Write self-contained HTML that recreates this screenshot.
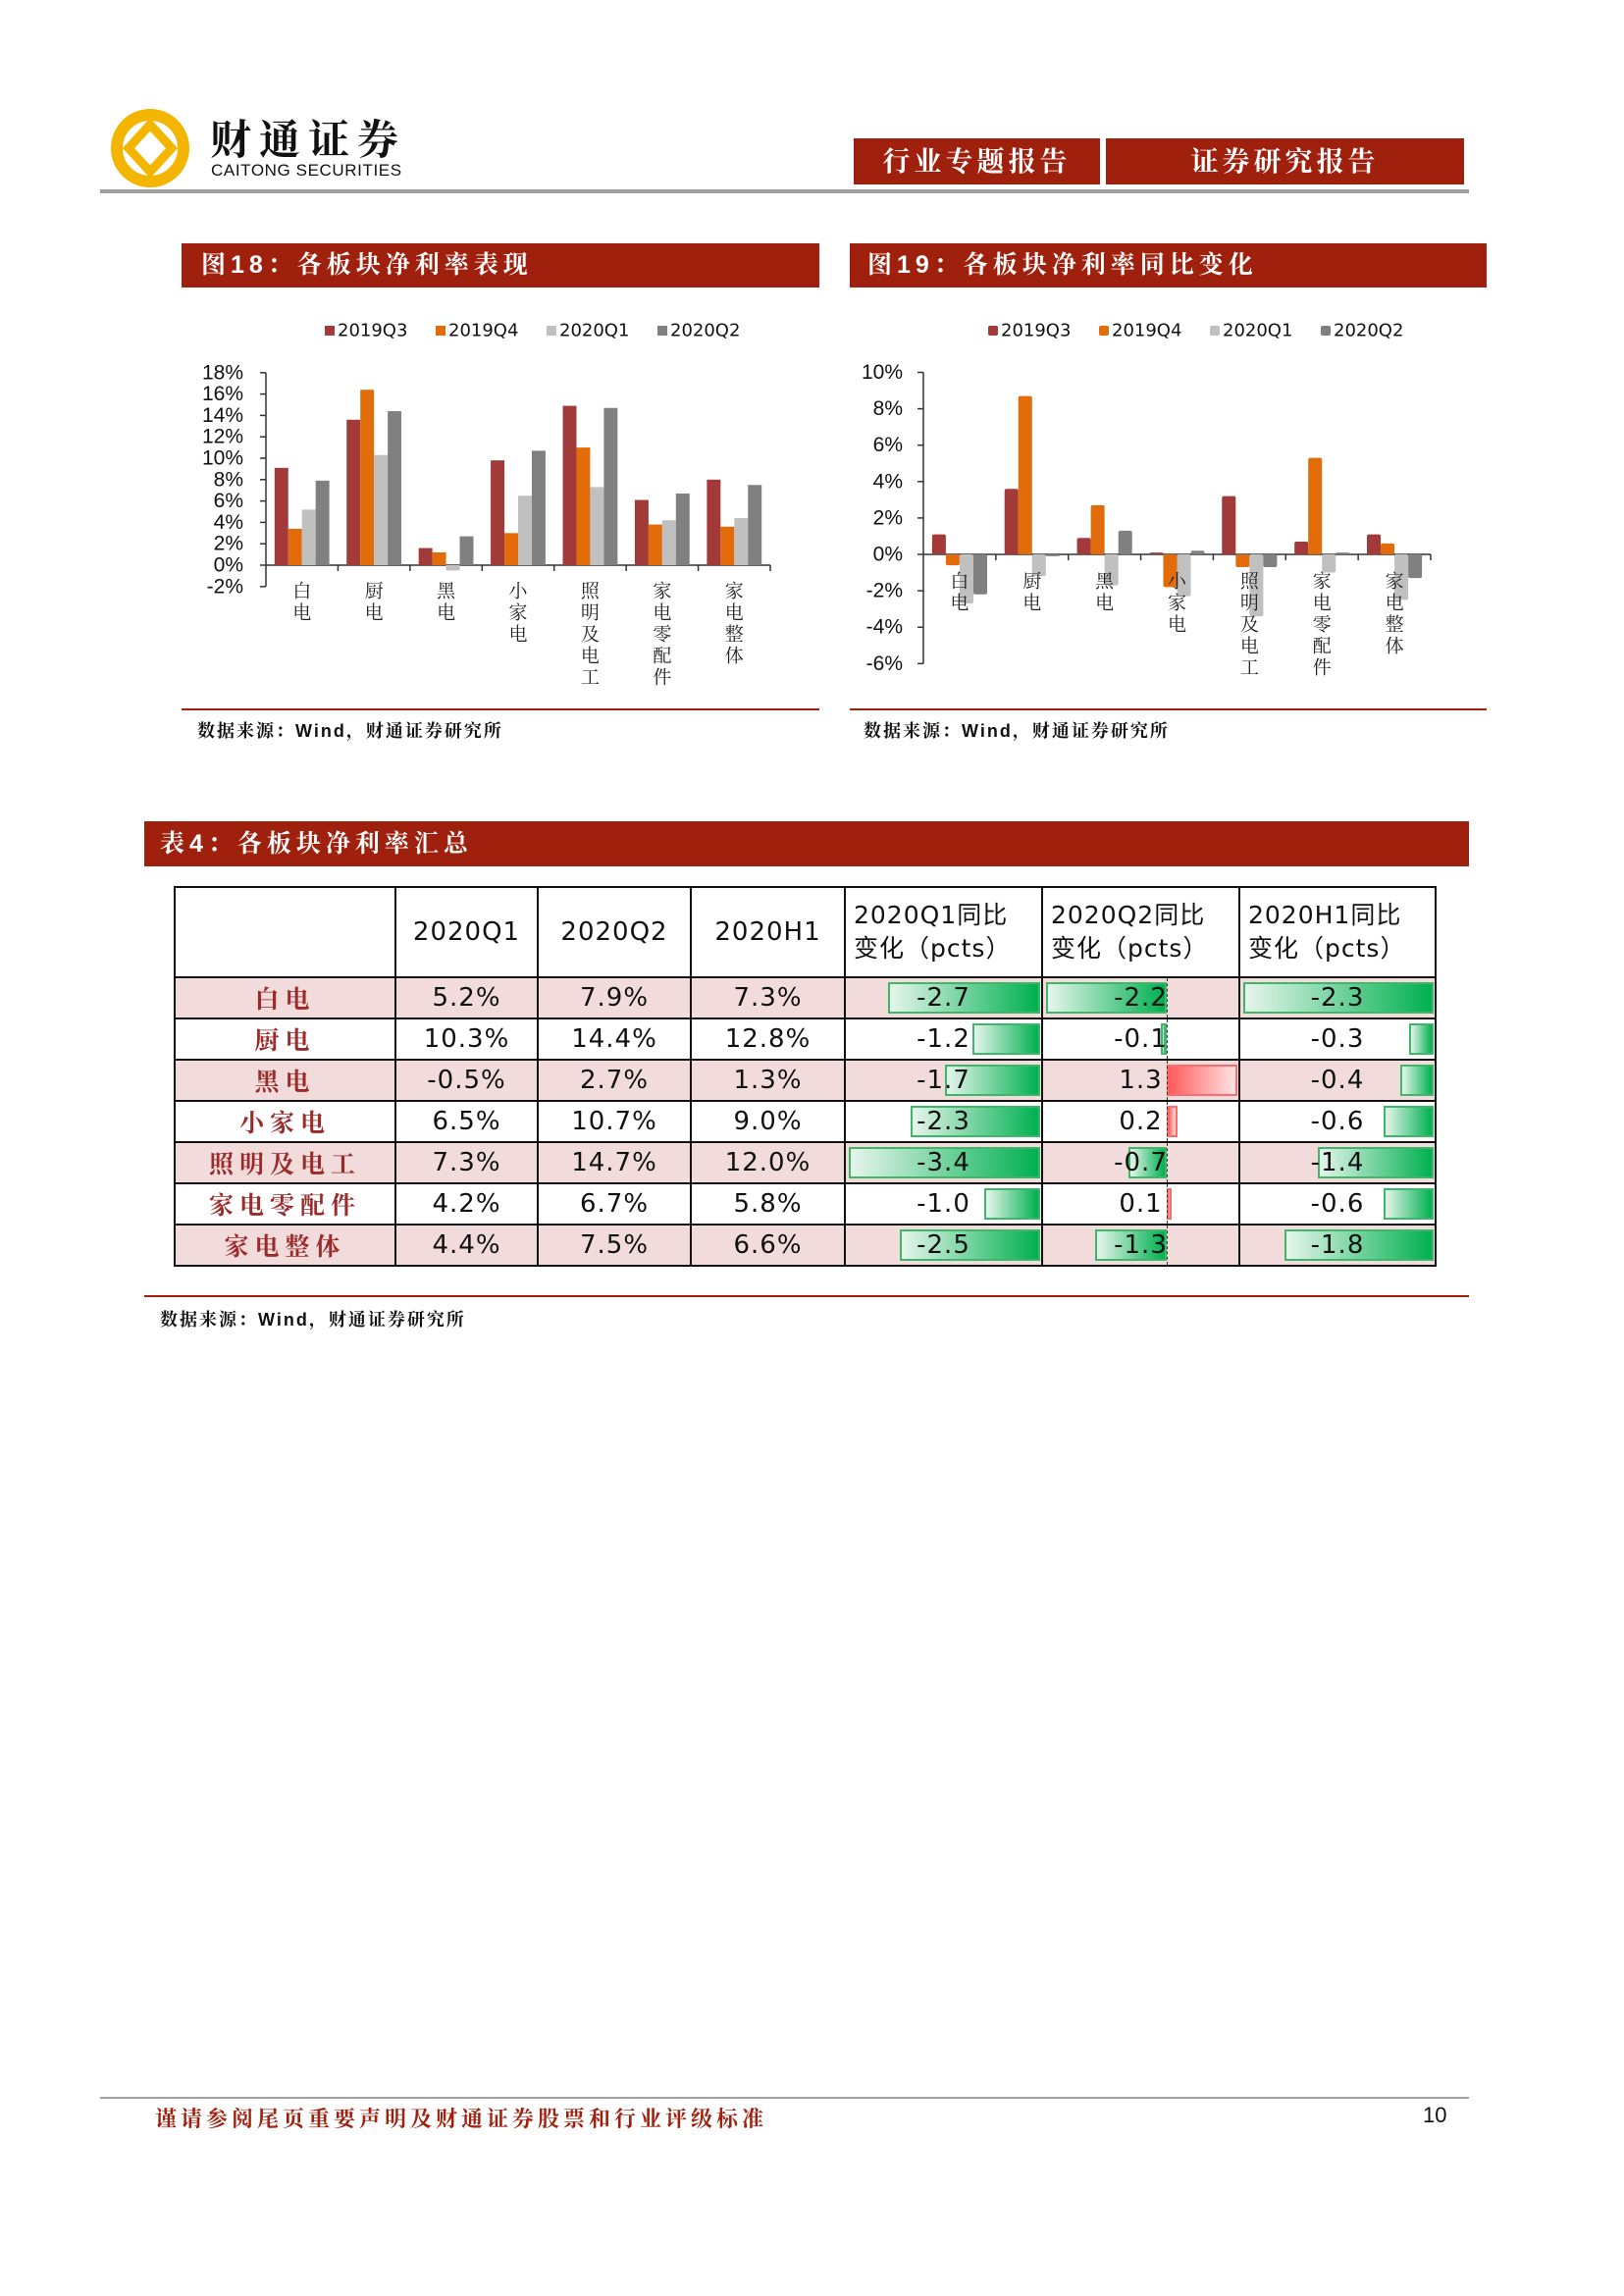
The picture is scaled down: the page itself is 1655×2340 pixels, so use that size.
<!DOCTYPE html>
<html><head><meta charset="utf-8">
<style>
body{margin:0;background:#fff;}
#page{position:relative;width:1655px;height:2340px;overflow:hidden;background:#fff;font-family:"Liberation Sans","Noto Sans CJK SC",sans-serif;}
.abs{position:absolute;}
.bar{background:#a0200e;color:#fff;font-weight:bold;font-family:"Liberation Sans","Noto Serif CJK SC",serif;}
.src{font-size:18px;font-weight:bold;letter-spacing:2px;font-family:"Liberation Sans","Noto Serif CJK SC",sans-serif;color:#111;}
table{border-collapse:collapse;position:absolute;left:177px;top:903px;table-layout:fixed;}
td{border:2px solid #111;padding:0;text-align:center;position:relative;font-family:"DejaVu Sans","Noto Sans CJK SC",sans-serif;font-size:26px;letter-spacing:1px;color:#111;}
tr.r{height:42px;}
tr.pink td{background:#f2dcdb;}
td.lab{color:#9b2b2b;font-family:"Liberation Serif","Noto Serif CJK SC",serif;font-size:25px;font-weight:bold;letter-spacing:6px;}
td.hd{text-align:left;padding-left:8px;font-size:25px;letter-spacing:1px;line-height:34px;}
.txt{position:relative;z-index:2;}
.db{position:absolute;top:4px;bottom:4px;box-sizing:border-box;z-index:1;}
</style></head>
<body>
<div id="page">
<svg class="abs" style="left:0;top:0" width="1655" height="200">
  <circle cx="153" cy="151" r="34" fill="none" stroke="#f3b500" stroke-width="12"/>
  <path d="M153 127 L175 151 L153 175 L131 151 Z" fill="none" stroke="#f3b500" stroke-width="9"/>
  <line x1="102" y1="195" x2="1497" y2="195" stroke="#a0a0a0" stroke-width="4"/>
</svg>
<div class="abs" style="left:214px;top:110px;font-size:42px;font-weight:bold;letter-spacing:8px;font-family:'Liberation Sans','Noto Serif CJK SC',serif;color:#111">财通证券</div>
<div class="abs" style="left:215px;top:164px;font-size:17px;letter-spacing:0.6px;color:#111">CAITONG SECURITIES</div>
<div class="abs bar" style="left:870px;top:141px;width:251px;height:47px;line-height:47px;text-align:center;font-size:28px;letter-spacing:4px">行业专题报告</div>
<div class="abs bar" style="left:1127px;top:141px;width:365px;height:47px;line-height:47px;text-align:center;font-size:28px;letter-spacing:4px">证券研究报告</div>

<div class="abs bar" style="left:185px;top:248px;width:650px;height:45px;line-height:45px;font-size:25px;letter-spacing:5px"><span style="padding-left:20px">图18：各板块净利率表现</span></div>
<div class="abs bar" style="left:866px;top:248px;width:649px;height:45px;line-height:45px;font-size:25px;letter-spacing:5px"><span style="padding-left:18px">图19：各板块净利率同比变化</span></div>

<svg id="c1" class="abs" style="left:0;top:0" width="1655" height="800"></svg>
<svg id="c2" class="abs" style="left:0;top:0" width="1655" height="800"></svg>

<div class="abs" style="left:185px;top:722px;width:650px;height:2px;background:#a0200e"></div>
<div class="abs" style="left:866px;top:722px;width:649px;height:2px;background:#a0200e"></div>
<div class="abs src" style="left:201px;top:731px">数据来源：Wind，财通证券研究所</div>
<div class="abs src" style="left:880px;top:731px">数据来源：Wind，财通证券研究所</div>

<div class="abs bar" style="left:147px;top:837px;width:1350px;height:46px;line-height:46px;font-size:25px;letter-spacing:5px"><span style="padding-left:16px">表4：各板块净利率汇总</span></div>

<table id="tbl">
<colgroup><col style="width:225px"><col style="width:145px"><col style="width:156px"><col style="width:157px"><col style="width:201px"><col style="width:201px"><col style="width:200px"></colgroup>
<tbody id="tb">
<tr style="height:92px">
<td></td>
<td>2020Q1</td>
<td>2020Q2</td>
<td>2020H1</td>
<td class="hd">2020Q1同比<br>变化（pcts）</td>
<td class="hd">2020Q2同比<br>变化（pcts）</td>
<td class="hd">2020H1同比<br>变化（pcts）</td>
</tr>
</tbody></table>

<div class="abs" style="left:147px;top:1320px;width:1350px;height:2px;background:#a0200e"></div>
<div class="abs src" style="left:163px;top:1331px">数据来源：Wind，财通证券研究所</div>

<div class="abs" style="left:102px;top:2137px;width:1395px;height:2px;background:#a0a0a0"></div>
<div class="abs" style="left:158px;top:2143px;font-size:22px;font-weight:bold;color:#a0200e;letter-spacing:4px;font-family:'Liberation Serif','Noto Serif CJK SC',serif">谨请参阅尾页重要声明及财通证券股票和行业评级标准</div>
<div class="abs" style="left:1450px;top:2143px;font-size:22px;color:#111">10</div>
</div>

<script>
const categories = ["白电","厨电","黑电","小家电","照明及电工","家电零配件","家电整体"];
const seriesNames = ["2019Q3","2019Q4","2020Q1","2020Q2"];
const marginQ3_19 = [9.1,13.6,1.6,9.8,14.9,6.1,8.0];
const marginQ4_19 = [3.4,16.4,1.2,3.0,11.0,3.8,3.6];
const marginQ1_20 = [5.2,10.3,-0.5,6.5,7.3,4.2,4.4];
const marginQ2_20 = [7.9,14.4,2.7,10.7,14.7,6.7,7.5];
const yoyQ3_19 = [1.1,3.6,0.9,0.1,3.2,0.7,1.1];
const yoyQ4_19 = [-0.6,8.7,2.7,-1.8,-0.7,5.3,0.6];
const yoyQ1_20 = [-2.7,-1.2,-1.7,-2.3,-3.4,-1.0,-2.5];
const yoyQ2_20 = [-2.2,-0.1,1.3,0.2,-0.7,0.1,-1.3];
const ticks1 = [-2,0,2,4,6,8,10,12,14,16,18];
const ticks2 = [-6,-4,-2,0,2,4,6,8,10];
const colors = ["#a33a3a","#e36c0a","#c0c0c0","#808080"];
// table
const tQ1 = ["5.2%","10.3%","-0.5%","6.5%","7.3%","4.2%","4.4%"];
const tQ2 = ["7.9%","14.4%","2.7%","10.7%","14.7%","6.7%","7.5%"];
const tH1 = ["7.3%","12.8%","1.3%","9.0%","12.0%","5.8%","6.6%"];
const chgQ1 = [-2.7,-1.2,-1.7,-2.3,-3.4,-1.0,-2.5];
const chgQ2 = [-2.2,-0.1,1.3,0.2,-0.7,0.1,-1.3];
const chgH1 = [-2.3,-0.3,-0.4,-0.6,-1.4,-0.6,-1.8];

const NS="http://www.w3.org/2000/svg";
function mk(svg,tag,attrs){const e=document.createElementNS(NS,tag);for(const k in attrs)e.setAttribute(k,attrs[k]);svg.appendChild(e);return e;}

function drawChart(id,series,ticks,cfg){
  const svg=document.getElementById(id);
  const y=v=>cfg.zero - v*cfg.per;
  const bw=(cfg.x1-cfg.x0)/categories.length;
  const ax=mk(svg,'line',{x1:cfg.x0,y1:y(ticks[0]),x2:cfg.x0,y2:y(ticks[ticks.length-1]),stroke:'#333','stroke-width':1.5});
  
  
  ticks.forEach(t=>{
    mk(svg,'line',{x1:cfg.x0-6,y1:y(t),x2:cfg.x0,y2:y(t),stroke:'#333','stroke-width':1.5});
    const tx=mk(svg,'text',{x:cfg.lx,y:y(t),'text-anchor':'end','dominant-baseline':'central','font-size':21,'font-family':'Liberation Sans, sans-serif',fill:'#111'});
    tx.textContent=t+'%';
    
    
  });
  const xa=mk(svg,'line',{x1:cfg.x0,y1:y(0),x2:cfg.x1,y2:y(0),stroke:'#333','stroke-width':1.5});
  
  
  const gw=bw*0.76, w=gw/4, off=(bw-gw)/2;
  categories.forEach((c,i)=>{
    const cx=cfg.x0+bw*(i+1);
    mk(svg,'line',{x1:cx,y1:y(0),x2:cx,y2:y(0)+6,stroke:'#333','stroke-width':1.5});
    series.forEach((s,j)=>{
      const v=s[i];
      const r=mk(svg,'rect',{x:cfg.x0+bw*i+off+w*j,y:Math.min(y(v),y(0)),width:w,height:Math.abs(y(v)-y(0)),fill:colors[j],rx:cfg.rx});
      
      
    });
    [...c].forEach((ch,k)=>{
      const t=mk(svg,'text',{x:cfg.x0+bw*(i+0.5),y:cfg.ly+k*22,'text-anchor':'middle','dominant-baseline':'central','font-size':19,'font-family':'Noto Serif CJK SC, serif',fill:'#222'});
      t.textContent=ch;
      
      
    });
  });
  seriesNames.forEach((n,j)=>{
    const mx=cfg.legX+j*113;
    const m=mk(svg,'rect',{x:mx,y:332,width:10,height:10,fill:colors[j],rx:cfg.rx});
    
    
    const t=mk(svg,'text',{x:mx+13,y:337,'dominant-baseline':'central','font-size':18,'font-family':'DejaVu Sans, sans-serif',fill:'#111'});
    t.textContent=n;
    
    
  });
}
drawChart('c1',[marginQ3_19,marginQ4_19,marginQ1_20,marginQ2_20],ticks1,{x0:271,x1:785,zero:576,per:10.9,lx:248,ly:601,legX:331,rx:0});
drawChart('c2',[yoyQ3_19,yoyQ4_19,yoyQ1_20,yoyQ2_20],ticks2,{x0:941,x1:1458,zero:565,per:18.55,lx:920,ly:591,legX:1007,rx:2});

// table rows
const tb=document.getElementById('tb');
const chgCols=[chgQ1,chgQ2,chgH1];
const ranges=chgCols.map(a=>({neg:Math.max(0,...a.map(v=>-v)),pos:Math.max(0,...a)}));
categories.forEach((c,i)=>{
  const tr=document.createElement('tr');
  tr.className='r'+(i%2===0?' pink':'');
  
  
  const lab=document.createElement('td');lab.className='lab';lab.textContent=c;
  
  
  tr.appendChild(lab);
  [tQ1,tQ2,tH1].forEach(a=>{
    const td=document.createElement('td');td.textContent=a[i];
    
    
    tr.appendChild(td);
  });
  chgCols.forEach((a,k)=>{
    const td=document.createElement('td');
    
    
    const W=[195,195,194][k];
    const rg=ranges[k];
    const unit=W/(rg.neg+rg.pos);
    const axis=3+rg.neg*unit;
    const v=a[i];
    const d=document.createElement('div');d.className='db';
    
    
    if(v<0){
      d.style.left=(axis+v*unit)+'px';d.style.width=(-v*unit)+'px';
      d.style.background='linear-gradient(to right,#e6f5ec,#00b050)';d.style.border='2px solid #3cb868';
    }else{
      d.style.left=axis+'px';d.style.width=(v*unit)+'px';
      d.style.background='linear-gradient(to right,#ff5a5a,#ffe4e4)';d.style.border='2px solid #ff6a6a';
    }
    td.appendChild(d);
    if(rg.pos>0){
      const ax=document.createElement('div');ax.className='db';
      ax.style.left=axis+'px';ax.style.width='0';ax.style.top='0';ax.style.bottom='0';ax.style.borderLeft='1px dashed #333';ax.style.zIndex=3;
      
      
      td.appendChild(ax);
    }
    const s=document.createElement('span');s.className='txt';s.textContent=v.toFixed(1);
    td.appendChild(s);
    tr.appendChild(td);
  });
  tb.appendChild(tr);
});
</script>
</body></html>
